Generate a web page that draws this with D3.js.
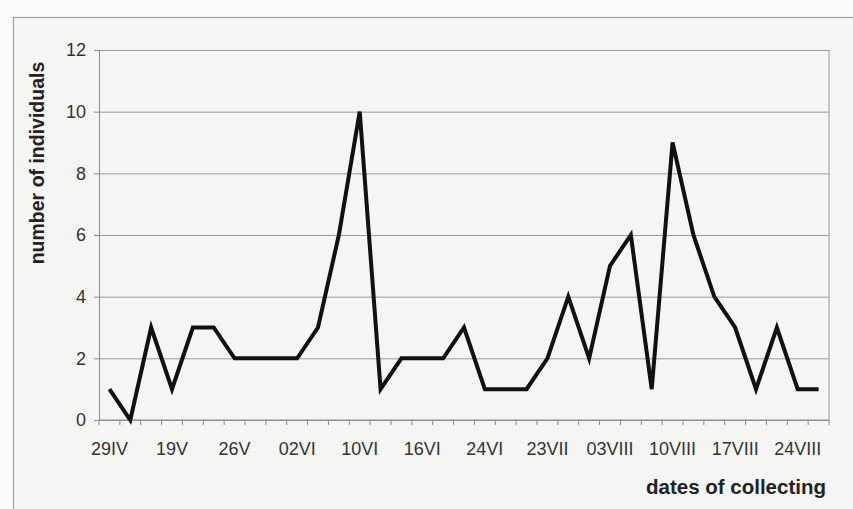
<!DOCTYPE html>
<html lang="en">
<head>
    <meta charset="UTF-8">
    <title>dates of collecting</title>
    <script src="https://d3js.org/d3.v7.min.js"></script>
    <style>
        * { margin: 0; padding: 0; box-sizing: border-box; }
        body { background: #fafafa; font-family: "Liberation Sans", Arial, sans-serif; }
    </style>
</head>
<body>
    <div id="chart"></div>
    <script>
        // 35 collecting dates, only every 3rd one is labelled on the axis
        const tickLabels = ["29IV", "19V", "26V", "02VI", "10VI", "16VI", "24VI",
                            "23VII", "03VIII", "10VIII", "17VIII", "24VIII"];
        const counts = [1, 0, 3, 1, 3, 3, 2, 2, 2, 2, 3, 6, 10, 1, 2, 2, 2, 3,
                        1, 1, 1, 2, 4, 2, 5, 6, 1, 9, 6, 4, 3, 1, 3, 1, 1];
        const yTicks = [0, 2, 4, 6, 8, 10, 12];

        const categories = counts.map((d, i) => i);

        const W = 853, H = 509;
        const margin = { top: 50, right: 24, bottom: 89, left: 99 },
              width = W - margin.left - margin.right,
              height = H - margin.top - margin.bottom;

        const root = d3.select("#chart")
                       .append("svg")
                       .attr("width", W)
                       .attr("height", H)
                       .style("font-family", "Liberation Sans, Arial, sans-serif");

        root.append("rect")
            .attr("width", W).attr("height", H)
            .attr("fill", "#fafafa");

        // outer chart frame
        root.append("rect")
            .attr("x", 13.5).attr("y", 17.5)
            .attr("width", W).attr("height", H)
            .attr("fill", "#f5f5f4")
            .attr("stroke", "#a0a0a0")
            .attr("stroke-width", 1.2);

        const svg = root.append("g")
                        .attr("transform", `translate(${margin.left},${margin.top})`);

        const x = d3.scaleBand()
                    .domain(categories)
                    .range([0, width])
                    .padding(0);

        const y = d3.scaleLinear()
                    .domain([0, 12])
                    .range([height, 0]);

        // horizontal gridlines
        svg.append("g")
           .call(d3.axisLeft(y).tickValues(yTicks).tickSize(-width).tickFormat(""))
           .call(g => g.select(".domain").remove())
           .selectAll("line")
           .attr("stroke", "#9a9a9a")
           .attr("stroke-width", 1);

        // right border of plot area
        svg.append("line")
           .attr("x1", width).attr("x2", width)
           .attr("y1", 0).attr("y2", height)
           .attr("stroke", "#9a9a9a");

        // y axis
        svg.append("g")
           .call(d3.axisLeft(y).tickValues(yTicks).tickSize(5).tickPadding(8).tickSizeOuter(0))
           .call(g => g.attr("font-size", null).attr("font-family", null))
           .call(g => g.selectAll("path, line").attr("stroke", "#8a8a8a"))
           .call(g => g.selectAll("text")
                       .style("font-size", "18px")
                       .attr("fill", "#333"));

        // x axis: ticks at band boundaries
        const xAxis = svg.append("g")
                         .attr("transform", `translate(0,${height})`);
        xAxis.append("line")
             .attr("x1", 0).attr("x2", width)
             .attr("stroke", "#8a8a8a");
        xAxis.selectAll(".xtick")
             .data(categories.concat([counts.length]))
             .join("line")
             .attr("x1", d => d < counts.length ? x(d) : width)
             .attr("x2", d => d < counts.length ? x(d) : width)
             .attr("y1", 0).attr("y2", 5)
             .attr("stroke", "#8a8a8a");
        xAxis.selectAll(".xlabel")
             .data(tickLabels)
             .join("text")
             .attr("x", (d, i) => x(i * 3) + x.bandwidth() / 2)
             .attr("y", 35)
             .attr("text-anchor", "middle")
             .style("font-size", "18px")
             .attr("fill", "#333")
             .text(d => d);

        const line = d3.line()
                       .x((d, i) => x(i) + x.bandwidth() / 2)
                       .y(d => y(d));

        svg.append("path")
           .datum(counts)
           .attr("fill", "none")
           .attr("stroke", "#111")
           .attr("stroke-width", 4)
           .attr("stroke-linejoin", "miter")
           .attr("d", line);

        // axis titles
        root.append("text")
            .attr("transform", `translate(44,${margin.top + 113}) rotate(-90)`)
            .attr("text-anchor", "middle")
            .style("font-size", "19.5px")
            .style("font-weight", "bold")
            .attr("fill", "#222")
            .text("number of individuals");

        root.append("text")
            .attr("x", 826)
            .attr("y", 494)
            .attr("text-anchor", "end")
            .style("font-size", "20.5px")
            .style("font-weight", "bold")
            .attr("fill", "#222")
            .text("dates of collecting");
    </script>
</body>
</html>
